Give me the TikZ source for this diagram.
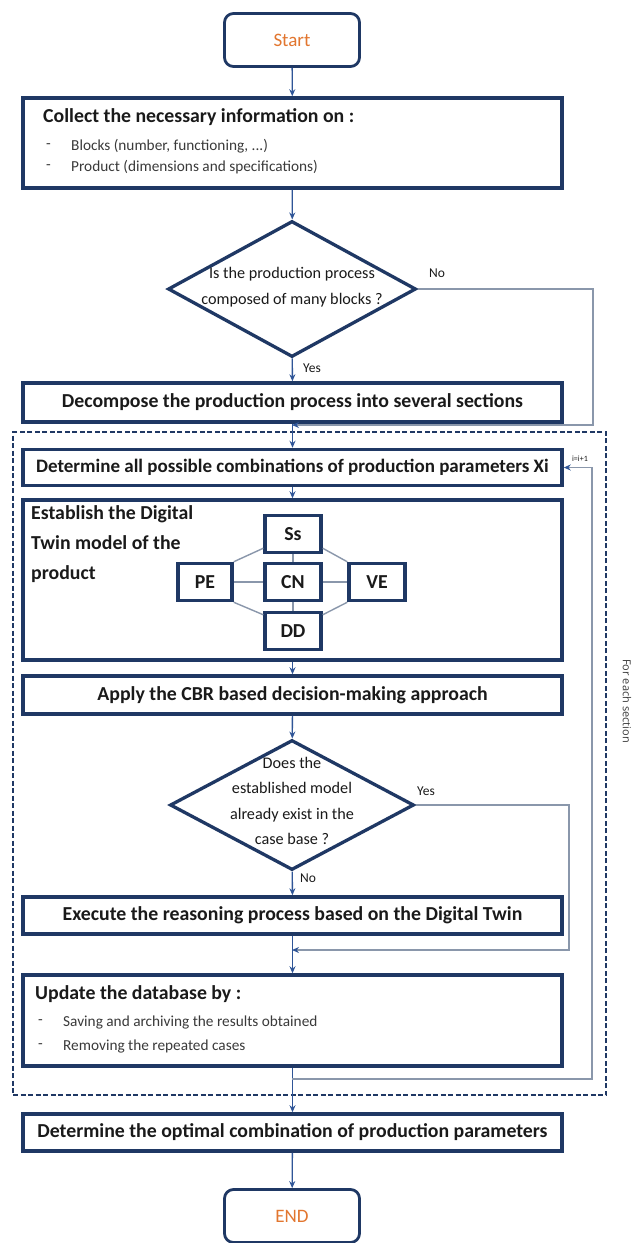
\documentclass[tikz,border=0pt]{standalone}
\usepackage{fontspec}
\setmainfont{Carlito}
\newfontfamily\osans{Open Sans}
\usetikzlibrary{shapes.geometric,arrows.meta}
\definecolor{navy}{HTML}{1F3864}
\definecolor{flow}{HTML}{2F5597}
\definecolor{loopc}{HTML}{8A97AB}
\definecolor{orng}{HTML}{E2762F}
\definecolor{txt}{HTML}{1A1A1A}
\definecolor{btxt}{HTML}{3A3A3A}
\begin{document}
\begin{tikzpicture}[x=1pt,y=-1pt,
  box/.style={draw=navy, line width=3.5pt, fill=white, minimum width=539pt, inner sep=0pt},
  term/.style={draw=navy, line width=2.8pt, rounded corners=9pt, fill=white, minimum width=135pt, minimum height=53pt, inner sep=0pt, text=orng, font=\fontsize{19}{22}\selectfont},
  btext/.style={font=\bfseries\fontsize{19.8}{23}\selectfont, text=txt},
  sbox/.style={draw=navy, line width=3.5pt, fill=white, minimum width=56pt, minimum height=37pt, inner sep=0pt, btext},
  dec/.style={draw=navy, line width=3.3pt, diamond, fill=white, inner sep=0pt},
  dtext/.style={font=\fontsize{16.2}{25.5}\selectfont, text=txt, align=center, inner sep=0pt},
  bul/.style={font=\fontsize{15.3}{17}\selectfont, text=btxt, anchor=west, inner sep=0pt},
  lab/.style={font=\fontsize{13.5}{15}\selectfont, text=txt, inner sep=0pt},
  flowarrow/.style={draw=flow, line width=1.3pt, -{Stealth[length=7pt,width=6pt]}},
  looparrow/.style={draw=loopc, line width=1.6pt, -{Stealth[length=7pt,width=6pt,color=flow]}},
  link/.style={draw=loopc, line width=1.4pt},
]
\useasboundingbox[fill=white] (0,0) rectangle (641,1243);

% section frame
\node[draw=navy, dashed, dash pattern=on 5pt off 2.5pt, line width=2pt, minimum width=593pt, minimum height=663pt, inner sep=0pt] (sect) at (309.5,763.5) {};
\node[font=\osans\fontsize{11}{13}\selectfont, text=btxt, rotate=-90, inner sep=0pt] (forl) at (627,701) {For each section};

% terminals
\node[term] (start) at (292,40) {Start};
\node[term] (end) at (292,1216) {END};

% collect box
\node[box, minimum height=90pt] (collect) at (292.5,143) {};
\node[btext, anchor=west, inner sep=0pt] (ct) at (43,117) {Collect the necessary information on :};
\node[bul] (cd1) at (46,146) {-};
\node[bul] (cb1) at (71,146) {Blocks (number, functioning, ...)};
\node[bul] (cd2) at (46,167) {-};
\node[bul] (cb2) at (71,167) {Product (dimensions and specifications)};

% decision 1
\node[dec, minimum width=248pt, minimum height=136pt] (d1) at (292,289) {};
\node[dtext] (d1t) at (292,287) {Is the production process\\composed of many blocks ?};

% decompose
\node[box, minimum height=39pt, btext] (decomp) at (292.5,402.5) {Decompose the production process into several sections};

% determine
\node[box, minimum height=36pt, btext, font=\bfseries\fontsize{19}{22}\selectfont] (determine) at (292.5,467.5) {Determine all possible combinations of production parameters Xi};

% digital twin box
\node[box, minimum height=160pt] (dt) at (292.5,580) {};
\node[btext, anchor=north west, align=left, inner sep=0pt, font=\bfseries\fontsize{19.8}{30}\selectfont] (dtt) at (31,505) {Establish the Digital\\Twin model of the\\product};
\node[sbox] (ss) at (293,534) {Ss};
\node[sbox] (cn) at (293,582) {CN};
\node[sbox] (dd) at (293,631) {DD};
\node[sbox, minimum width=54pt] (pe) at (205,582) {PE};
\node[sbox] (ve) at (377,582) {VE};
\draw[link] (pe) -- (cn);
\draw[link] (cn) -- (ve);
\draw[link] (ss) -- (cn);
\draw[link] (cn) -- (dd);
\draw[link] (pe.north east) -- ([yshift=6pt]ss.south west);
\draw[link] (ve.north west) -- ([yshift=6pt]ss.south east);
\draw[link] (pe.south east) -- ([yshift=-4pt]dd.north west);
\draw[link] (ve.south west) -- ([yshift=-4pt]dd.north east);

% apply
\node[box, minimum height=38pt, btext] (apply) at (292.5,695) {Apply the CBR based decision-making approach};

% decision 2
\node[dec, minimum width=244pt, minimum height=130pt] (d2) at (292,805) {};
\node[dtext] (d2t) at (292,801) {Does the\\established model\\already exist in the\\case base ?};

% execute
\node[box, minimum height=37pt, btext] (execute) at (292.5,915.5) {Execute the reasoning process based on the Digital Twin};

% update
\node[box, minimum height=91pt] (update) at (292.5,1020.5) {};
\node[btext, anchor=west, inner sep=0pt] (ut) at (35,994) {Update the database by :};
\node[bul] (ud1) at (38,1022) {-};
\node[bul] (ub1) at (63,1022) {Saving and archiving the results obtained};
\node[bul] (ud2) at (38,1046) {-};
\node[bul] (ub2) at (63,1046) {Removing the repeated cases};

% optimal
\node[box, minimum height=37pt, btext] (optimal) at (292.5,1132.5) {Determine the optimal combination of production parameters};

% labels
\node[lab] (no1) at (437,273) {No};
\node[lab] (yes1) at (312,368) {Yes};
\node[lab] (yes2) at (426,791) {Yes};
\node[lab] (no2) at (308,878) {No};
\node[font=\fontsize{8}{9}\selectfont, text=txt, inner sep=0pt] (ilab) at (580,459) {i=i+1};

% coordinates
\coordinate (nocorner) at (593,425);
\coordinate (noend) at (292,425);
\coordinate (yescorner) at (569,950);
\coordinate (yesend) at (292,950);
\coordinate (lb) at (292,1079);
\coordinate (lr) at (592,1079);

% main flow
\draw[flowarrow] (start) -- (collect);
\draw[flowarrow] (collect) -- (d1);
\draw[flowarrow] (d1) -- (decomp);
\draw[flowarrow] (decomp) -- (determine);
\draw[flowarrow] (determine) -- (dt);
\draw[flowarrow] (dt) -- (apply);
\draw[flowarrow] (apply) -- (d2);
\draw[flowarrow] (d2) -- (execute);
\draw[flowarrow] (execute) -- (update);
\draw[flowarrow] (update) -- (optimal);
\draw[flowarrow] (optimal) -- (end);

% loops
\draw[looparrow] (d1.east) -| (nocorner) -- (noend);
\draw[looparrow] (d2.east) -| (yescorner) -- (yesend);
\draw[looparrow] (lb) -- (lr) |- (determine.east);
\end{tikzpicture}
\end{document}
